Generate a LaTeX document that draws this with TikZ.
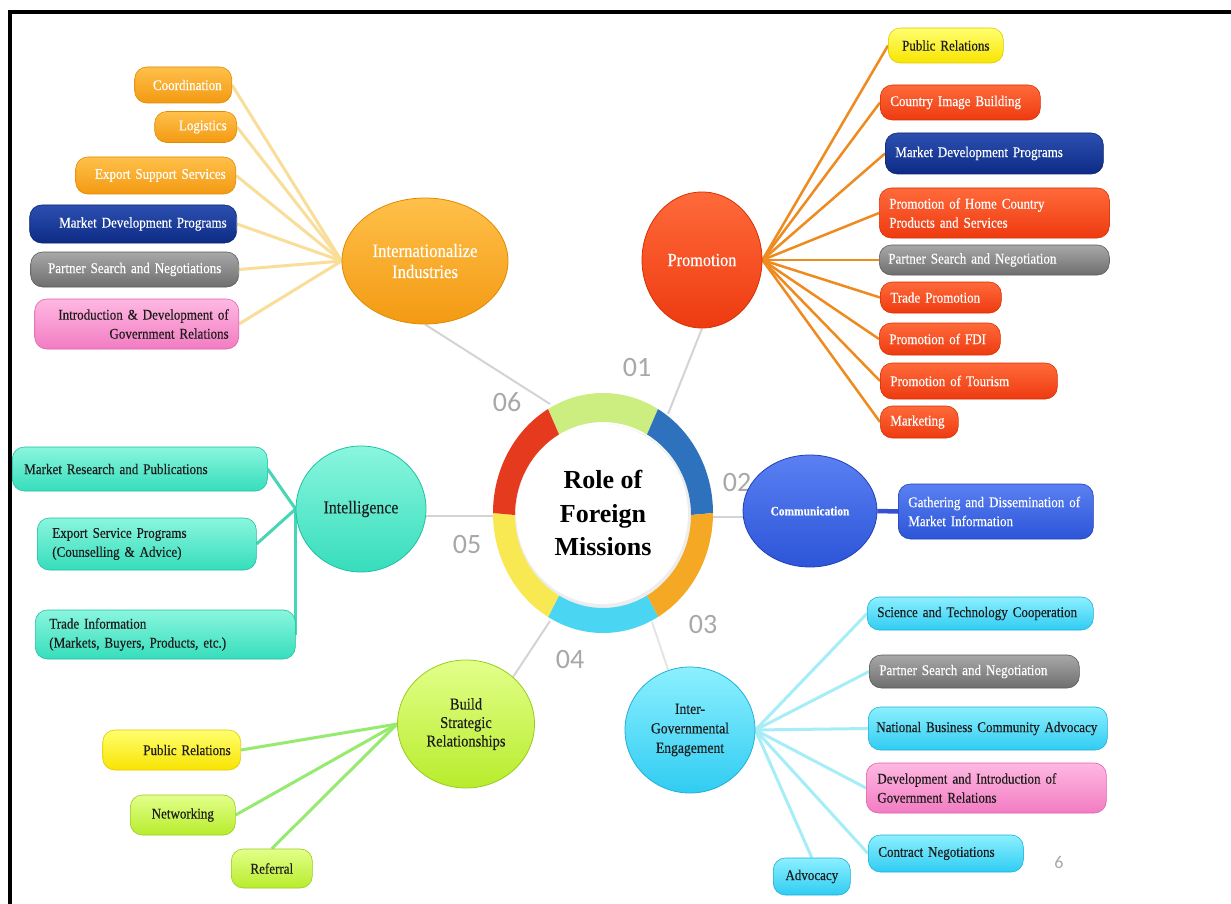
\documentclass[tikz,border=0pt]{standalone}
\usepackage{fontspec}
\setmainfont{Liberation Serif}
\newfontfamily\cf{Liberation Serif}[FakeStretch=0.88, FakeBold=0.3, WordSpace=0.8]
\newfontfamily\numfont{Carlito}
\usetikzlibrary{shapes.geometric,calc}
\pgfdeclarelayer{bg}
\pgfdeclarelayer{back}
\pgfsetlayers{back,bg,main}
\hyphenpenalty=10000
\exhyphenpenalty=10000
\definecolor{orT}{HTML}{FFC04A}\definecolor{orB}{HTML}{F39A12}\definecolor{orD}{HTML}{E08A00}
\definecolor{rdT}{HTML}{FF6A3A}\definecolor{rdB}{HTML}{EE3A10}\definecolor{rdD}{HTML}{D83000}
\definecolor{blT}{HTML}{2C4FB0}\definecolor{blB}{HTML}{0D2B85}\definecolor{blD}{HTML}{0A2570}
\definecolor{gyT}{HTML}{A8A8A8}\definecolor{gyB}{HTML}{6E6E6E}\definecolor{gyD}{HTML}{5A5A5A}
\definecolor{pkT}{HTML}{FFB8E2}\definecolor{pkB}{HTML}{F27CC2}\definecolor{pkD}{HTML}{E060B0}
\definecolor{ylT}{HTML}{FFFF70}\definecolor{ylB}{HTML}{F8E400}\definecolor{ylD}{HTML}{E0C800}
\definecolor{cyT}{HTML}{8CF0FF}\definecolor{cyB}{HTML}{30CCF2}\definecolor{cyD}{HTML}{20B0D8}
\definecolor{tqT}{HTML}{8AF6DE}\definecolor{tqB}{HTML}{36DDBC}\definecolor{tqD}{HTML}{20C0A0}
\definecolor{lmT}{HTML}{E2FF8A}\definecolor{lmB}{HTML}{B8EC2C}\definecolor{lmD}{HTML}{98CC20}
\definecolor{cmT}{HTML}{5A80F2}\definecolor{cmB}{HTML}{2C55D8}\definecolor{cmD}{HTML}{2040B8}
\definecolor{txt}{HTML}{1C1C1C}
\definecolor{spk}{HTML}{D4D4D4}
\definecolor{numc}{HTML}{A8A8A8}
\definecolor{lnI}{HTML}{F9DE9A}\definecolor{lnP}{HTML}{EE8A1E}\definecolor{lnC}{HTML}{3550D0}
\definecolor{lnG}{HTML}{A6EEF7}\definecolor{lnT}{HTML}{45D6B5}\definecolor{lnB}{HTML}{96EA6E}
\definecolor{sgG}{HTML}{CCEE80}\definecolor{sgB}{HTML}{2E72BE}\definecolor{sgO}{HTML}{F5A823}
\definecolor{sgC}{HTML}{4AD6F2}\definecolor{sgY}{HTML}{F8E852}\definecolor{sgR}{HTML}{E63A1E}
\tikzset{
 box/.style={rectangle, rounded corners=12pt, inner xsep=10pt, inner ysep=0pt, line width=0.6pt, font=\cf\fontsize{14.8}{19}\selectfont},
 orbox/.style={box, top color=orT, bottom color=orB, draw=orD, text=white},
 redbox/.style={box, top color=rdT, bottom color=rdB, draw=rdD, text=white},
 bluebox/.style={box, top color=blT, bottom color=blB, draw=blD, text=white},
 graybox/.style={box, top color=gyT, bottom color=gyB, draw=gyD, text=white},
 pinkbox/.style={box, top color=pkT, bottom color=pkB, draw=pkD, text=txt},
 yelbox/.style={box, top color=ylT, bottom color=ylB, draw=ylD, text=txt},
 cyanbox/.style={box, top color=cyT, bottom color=cyB, draw=cyD, text=txt},
 turqbox/.style={box, top color=tqT, bottom color=tqB, draw=tqD, text=txt},
 limebox/.style={box, top color=lmT, bottom color=lmB, draw=lmD, text=txt},
 combox/.style={box, top color=cmT, bottom color=cmB, draw=cmD, text=white},
 hub/.style={ellipse, inner sep=0pt, align=center, line width=0.8pt},
 spoke/.style={draw=spk, line width=2pt},
 num/.style={font=\numfont\fontsize{28}{30}\selectfont, text=numc},
}
\newcommand\seg[3]{\fill[#1] ($(603,513)+(#2:110 and 120)$) arc[start angle=#2, end angle=#3, x radius=110, y radius=120] -- ($(603,515)+(#3:88 and 93)$) arc[start angle=#3, end angle=#2, x radius=88, y radius=93] -- cycle;}
\begin{document}
\begin{tikzpicture}[x=1pt, y=1pt, yscale=-1]
\useasboundingbox (0,0) rectangle (1231,904);
\begin{pgfonlayer}{back}
\fill[white] (0,0) rectangle (1231,904);
\end{pgfonlayer}

% ring
\fill[gray!14] (603,518) ellipse [x radius=89, y radius=94];
\fill[white] (602,514) ellipse [x radius=86, y radius=90];
\seg{sgG}{-120}{-60}
\seg{sgB}{-60}{0}
\seg{sgO}{0}{60}
\seg{sgC}{60}{120}
\seg{sgY}{120}{180}
\seg{sgR}{180}{240}
\node[font=\bfseries\fontsize{26}{33.5}\selectfont, align=center, text=black] (title) at (603,513) {Role of\\Foreign\\Missions};
\coordinate (r1) at (668,414);
\coordinate (r2) at (713,517);
\coordinate (r3) at (652,622);
\coordinate (r4) at (550,621);
\coordinate (r5) at (493,516);
\coordinate (r6) at (550,404);
\node[num] (n1) at (637,368) {01};
\node[num] (n2) at (737,483) {02};
\node[num] (n3) at (703,625) {03};
\node[num] (n4) at (570,660) {04};
\node[num] (n5) at (467,545) {05};
\node[num] (n6) at (507,402) {06};

% hubs
\node[hub, top color=orT, bottom color=orB, draw=orD, minimum width=166pt, minimum height=126pt, text=white, font=\cf\fontsize{19}{21}\selectfont] (ind) at (425,261) {Internationalize\\Industries};
\node[hub, top color=rdT, bottom color=rdB, draw=rdD, minimum width=120pt, minimum height=136pt, text=white, font=\cf\fontsize{18.5}{21}\selectfont] (prom) at (702,260) {Promotion};
\node[hub, top color=cmT, bottom color=cmB, draw=cmD, minimum width=134pt, minimum height=112pt, text=white, font=\cf\bfseries\fontsize{13}{14}\selectfont] (comm) at (810,511) {Communication};
\node[hub, top color=cyT, bottom color=cyB, draw=cyD, minimum width=130pt, minimum height=126pt, text=txt, font=\cf\fontsize{15.5}{19.5}\selectfont] (ig) at (690,730) {Inter-\\Governmental\\Engagement};
\node[hub, top color=tqT, bottom color=tqB, draw=tqD, minimum width=130pt, minimum height=126pt, text=txt, font=\cf\fontsize{18}{19}\selectfont] (intl) at (361,509) {Intelligence};
\node[hub, top color=lmT, bottom color=lmB, draw=lmD, minimum width=137pt, minimum height=128pt, text=txt, font=\cf\fontsize{16.5}{18.5}\selectfont] (bsr) at (466,724) {Build\\Strategic\\Relationships};

% Internationalize children
\node[orbox, anchor=east, align=right, text width=77pt, minimum height=36pt] (a1) at (232,85) {Coordination};
\node[orbox, anchor=east, align=right, text width=62pt, minimum height=31pt] (a2) at (237,127) {Logistics};
\node[orbox, anchor=east, align=right, text width=140pt, minimum height=37pt] (a3) at (236,175.5) {Export Support Services};
\node[bluebox, anchor=east, align=right, text width=187pt, minimum height=38pt] (a4) at (237,224) {Market Development Programs};
\node[graybox, anchor=east, align=center, text width=188pt, minimum height=35pt] (a5) at (239,269.5) {Partner Search and Negotiations};
\node[pinkbox, anchor=east, align=right, text width=184pt, minimum height=50pt] (a6) at (239,324) {Introduction \& Development of\\Government Relations};

% Promotion children
\node[yelbox, anchor=west, align=center, text width=95pt, minimum height=35pt] (p1) at (888,45.5) {Public Relations};
\node[redbox, anchor=west, align=left, text width=140pt, minimum height=35pt] (p2) at (880,102.5) {Country Image Building};
\node[bluebox, anchor=west, align=left, text width=198pt, minimum height=41pt] (p3) at (885,153.5) {Market Development Programs};
\node[redbox, anchor=west, align=left, text width=210pt, minimum height=50pt] (p4) at (879,213) {Promotion of Home Country\\Products and Services};
\node[graybox, anchor=west, align=left, text width=212pt, minimum height=30pt, inner xsep=9pt] (p5) at (879,260) {Partner Search and Negotiation};
\node[redbox, anchor=west, align=left, text width=101pt, minimum height=31pt] (p6) at (880,297.5) {Trade Promotion};
\node[redbox, anchor=west, align=left, text width=101pt, minimum height=32pt] (p7) at (879,339) {Promotion of FDI};
\node[redbox, anchor=west, align=left, text width=157pt, minimum height=36pt] (p8) at (880,381) {Promotion of Tourism};
\node[redbox, anchor=west, align=left, text width=58pt, minimum height=32pt] (p9) at (880,422) {Marketing};

% Communication child
\node[combox, anchor=west, align=left, text width=175pt, minimum height=55pt] (c1) at (898,511.5) {Gathering and Dissemination of\\Market Information};

% Inter-governmental children
\node[cyanbox, anchor=west, align=left, text width=206pt, minimum height=33pt] (g1) at (867,613.5) {Science and Technology Cooperation};
\node[graybox, anchor=west, align=left, text width=190pt, minimum height=33pt] (g2) at (869,671.5) {Partner Search and Negotiation};
\node[cyanbox, anchor=west, align=left, inner xsep=8pt, text width=223pt, minimum height=43pt] (g3) at (868,728.5) {National Business Community Advocacy};
\node[pinkbox, anchor=west, align=left, inner xsep=11pt, text width=218pt, minimum height=50pt] (g4) at (866,788) {Development and Introduction of\\Government Relations};
\node[cyanbox, anchor=west, align=left, text width=135pt, minimum height=37pt] (g5) at (868,853.5) {Contract Negotiations};
\node[cyanbox, anchor=west, align=center, text width=57pt, minimum height=37pt] (g6) at (773,876.5) {Advocacy};

% Intelligence children
\node[turqbox, anchor=west, align=left, inner xsep=12pt, text width=231pt, minimum height=44pt] (i1) at (12,469) {Market Research and Publications};
\node[turqbox, anchor=west, align=left, inner xsep=15pt, text width=189pt, minimum height=52pt] (i2) at (37,544) {Export Service Programs\\(Counselling \& Advice)};
\node[turqbox, anchor=west, align=left, inner xsep=14pt, text width=232pt, minimum height=49pt] (i3) at (35,634.5) {Trade Information\\(Markets, Buyers, Products, etc.)};

% Build children
\node[yelbox, anchor=east, align=right, text width=118pt, minimum height=40pt] (b1) at (241,750) {Public Relations};
\node[limebox, anchor=west, align=center, text width=85pt, minimum height=40pt] (b2) at (130,815) {Networking};
\node[limebox, anchor=west, align=center, text width=61pt, minimum height=39pt] (b3) at (231,868.5) {Referral};

\node[font=\numfont\fontsize{18}{20}\selectfont, text=numc] (pg) at (1059,862) {6};

\begin{pgfonlayer}{bg}
\draw[spoke] (ind.south) -- (r6);
\draw[spoke] (prom.south) -- (r1);
\draw[spoke] (r2) -- (comm.west |- r2);
\draw[spoke, draw=spk!60] (r3) -- (ig.110);
\draw[spoke] (r4) -- (bsr.45);
\draw[spoke] (r5) -- (intl.east |- r5);
\foreach \n in {a1,a2,a3,a4,a5,a6} \draw[lnI, line width=3pt] (\n.east) -- (ind.west);
\foreach \n in {p1,p2,p3,p4,p5,p6,p7,p8,p9} \draw[lnP, line width=2.5pt] (\n.west) -- (prom.east);
\draw[lnC, line width=4.5pt] (comm.east) -- (c1.west);
\foreach \n in {g1,g2,g3,g4,g5} \draw[lnG, line width=3pt] (\n.west) -- (ig.east);
\draw[lnG, line width=3pt] (g6.north) -- (ig.east);
\draw[lnT, line width=3pt] (i1.east) -- (intl.west);
\draw[lnT, line width=3pt] (i2.east) -- (intl.west);
\draw[lnT, line width=3pt] (intl.west) -- (intl.west |- i3.east);
\draw[lnB, line width=3pt] (b1.east) -- (bsr.west);
\draw[lnB, line width=3pt] (b2.east) -- (bsr.west);
\draw[lnB, line width=3pt] (b3.north) -- (bsr.west);
\end{pgfonlayer}

% frame
\fill[black] (8,10) rectangle (12,904);
\fill[black] (8,10) rectangle (1231,14);
\end{tikzpicture}
\end{document}
